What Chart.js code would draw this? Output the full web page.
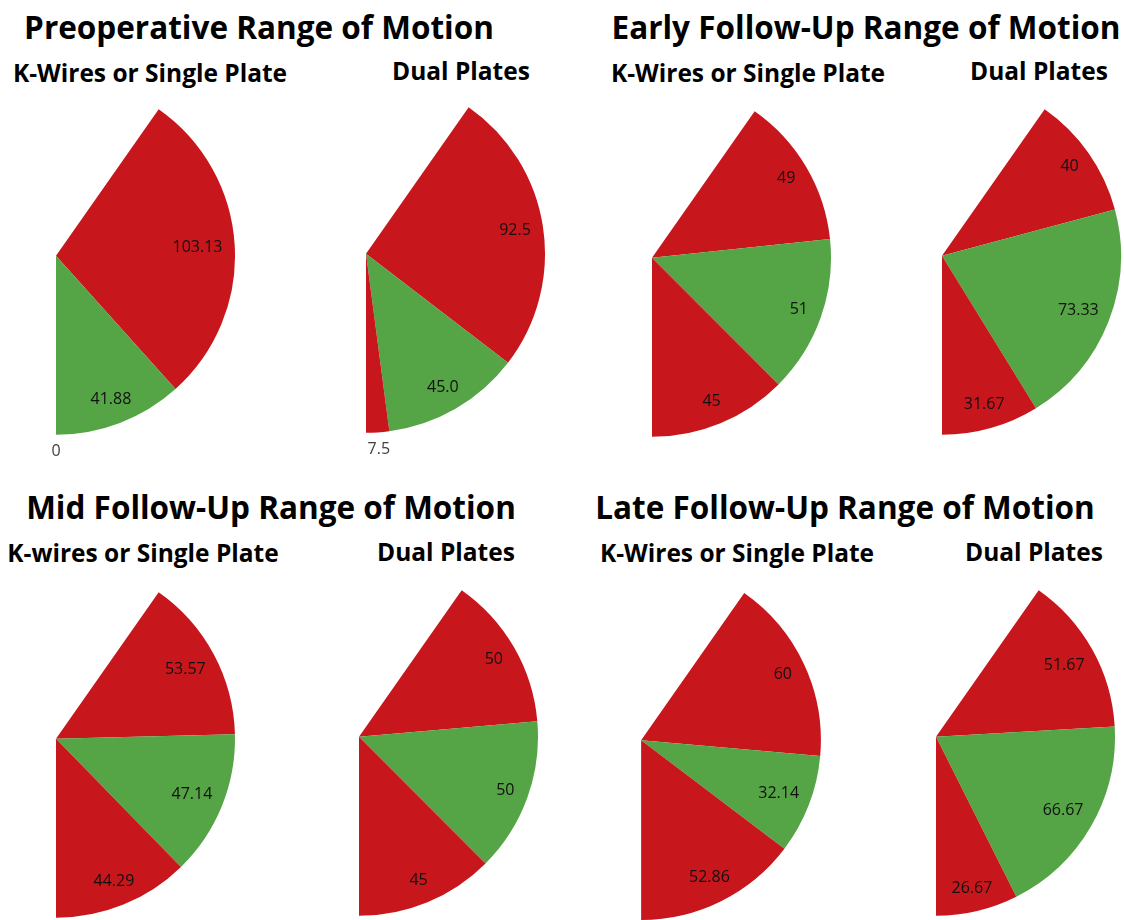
<!DOCTYPE html>
<html>
<head>
<meta charset="utf-8">
<title>Range of Motion</title>
<script src="https://cdn.jsdelivr.net/npm/chart.js@4.4.1/dist/chart.umd.min.js"></script>
<style>
  body { margin: 0; background: #fff; }
  #page { position: relative; width: 1124px; height: 920px; overflow: hidden; font-family: "Open Sans", sans-serif; color: #000; }
  .title { position: absolute; font-weight: 700; font-size: 31.5px; line-height: 31.5px; white-space: nowrap; transform: translateX(-50%); }
  .sub { position: absolute; font-weight: 700; font-size: 24.5px; line-height: 24.5px; white-space: nowrap; transform: translateX(-50%); }
  canvas { position: absolute; }
</style>
</head>
<body>
<div id="page"></div>
<script>
// titles of the four time points
const panelTitles = ['Preoperative Range of Motion', 'Early Follow-Up Range of Motion',
                     'Mid Follow-Up Range of Motion', 'Late Follow-Up Range of Motion'];
// one pie per group, left to right, top to bottom
const groupNames = ['K-Wires or Single Plate', 'Dual Plates', 'K-Wires or Single Plate', 'Dual Plates',
                    'K-wires or Single Plate', 'Dual Plates', 'K-Wires or Single Plate', 'Dual Plates'];
// slices clockwise from the top (degrees, as printed on the chart)
const sliceNames = ['Flexion deficit', 'Arc of motion', 'Extension deficit'];
const flexionDeficit = ['103.13', '92.5', '49', '40', '53.57', '50', '60', '51.67'];
const arcOfMotion    = ['41.88', '45.0', '51', '73.33', '47.14', '50', '32.14', '66.67'];
const extDeficit     = ['0', '7.5', '45', '31.67', '44.29', '45', '52.86', '26.67'];

const RED = '#C8161D';
const GREEN = '#55A445';

// layout: title centres, subtitle centres, pie centres and radius
const titlePos = [[259, 11], [866, 11], [271, 491], [845, 491]];
const subPos = [[150, 61], [461, 59], [748, 61], [1039, 59], [143, 541], [446, 540], [737, 541], [1034, 540]];
const piePos = [[56, 256, 179], [366, 254, 179], [652, 258, 179], [942, 256, 179],
                [56, 739, 179], [359, 737, 179], [641, 740, 180], [936, 737, 179]];

const page = document.getElementById('page');
const COS35 = Math.cos(35 * Math.PI / 180);

panelTitles.forEach((t, i) => {
    const d = document.createElement('div');
    d.className = 'title';
    d.textContent = t;
    d.style.left = titlePos[i][0] + 'px';
    d.style.top = titlePos[i][1] + 'px';
    page.appendChild(d);
});

groupNames.forEach((t, i) => {
    const d = document.createElement('div');
    d.className = 'sub';
    d.textContent = t;
    d.style.left = subPos[i][0] + 'px';
    d.style.top = subPos[i][1] + 'px';
    page.appendChild(d);
});

// value labels: inside near the rim, small slices just outside
const sliceLabels = {
    id: 'sliceLabels',
    afterDatasetsDraw(chart) {
        const ctx = chart.ctx;
        const meta = chart.getDatasetMeta(0);
        const raw = chart.data.datasets[0].data;
        ctx.save();
        ctx.font = '16px "Open Sans"';
        ctx.textAlign = 'center';
        ctx.textBaseline = 'middle';
        meta.data.forEach((arc, i) => {
            const p = arc.getProps(['x', 'y', 'startAngle', 'endAngle', 'outerRadius'], true);
            const mid = (p.startAngle + p.endAngle) / 2;
            const text = String(raw[i]);
            const hw = ctx.measureText(text).width / 2;
            let d;
            if (p.endAngle - p.startAngle < 0.2) {
                d = p.outerRadius + 17;
                ctx.fillStyle = '#404040';
            } else {
                d = 0.87 * p.outerRadius;
                const far = (dd) => Math.hypot(Math.abs(dd * Math.cos(mid)) + hw, Math.abs(dd * Math.sin(mid)) + 6);
                while (d > 0.5 * p.outerRadius && far(d) > p.outerRadius - 11) d -= 1;
                ctx.fillStyle = '#111';
            }
            ctx.fillText(text, p.x + d * Math.cos(mid), p.y + d * Math.sin(mid));
        });
        ctx.restore();
    }
};

piePos.forEach(([cx, cy, r], i) => {
    const padL = 26, padR = 2, padB = 32;
    const areaH = Math.round(r * (1 + COS35));
    const cv = document.createElement('canvas');
    cv.width = padL + r + padR;
    cv.height = areaH + padB;
    cv.style.width = cv.width + 'px';
    cv.style.height = cv.height + 'px';
    cv.style.left = (cx - padL) + 'px';
    cv.style.top = Math.round(cy - r * COS35) + 'px';
    page.appendChild(cv);

    new Chart(cv.getContext('2d'), {
        type: 'pie',
        data: {
            labels: sliceNames,
            datasets: [{
                data: [flexionDeficit[i], arcOfMotion[i], extDeficit[i]],
                backgroundColor: [RED, GREEN, RED],
                borderWidth: 0,
                hoverOffset: 0
            }]
        },
        options: {
            responsive: false,
            animation: false,
            events: [],
            rotation: 35,
            circumference: 145,
            layout: { padding: { left: padL, right: padR, top: 0, bottom: padB } },
            plugins: { legend: { display: false }, tooltip: { enabled: false } }
        },
        plugins: [sliceLabels]
    });
});
</script>
</body>
</html>
